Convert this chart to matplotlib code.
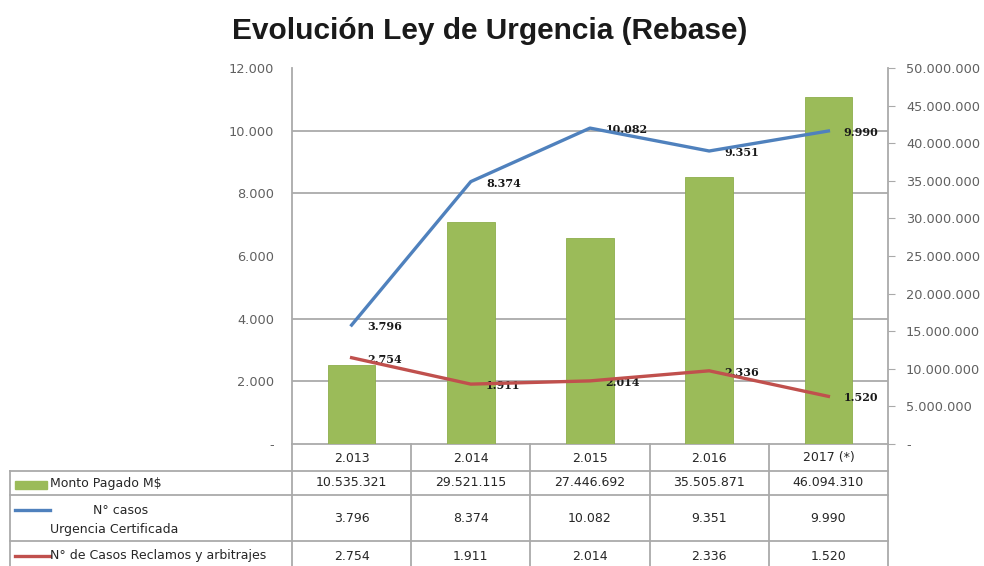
import numpy as np
import matplotlib.pyplot as plt
from matplotlib.lines import Line2D
from matplotlib.patches import Rectangle
from matplotlib.transforms import blended_transform_factory

# datos
years = ["2.013", "2.014", "2.015", "2.016", "2017 (*)"]
monto = [10535321, 29521115, 27446692, 35505871, 46094310]
urgencia = [3796, 8374, 10082, 9351, 9990]
reclamos = [2754, 1911, 2014, 2336, 1520]

left_ticks = np.arange(0, 12001, 2000)
right_ticks = np.arange(0, 50000001, 5000000)

GREEN = "#9BBB59"
BLUE = "#4F81BD"
RED = "#C0504D"
GRID = "#AAAAAA"
TXT = "#262626"


def fmt(v):
    if v == 0:
        return "-"
    return f"{v:,.0f}".replace(",", ".")


W, H = 984, 566
fig = plt.figure(figsize=(W / 100, H / 100), dpi=100)


def fx(px):
    return px / W


def fy(py):
    return 1 - py / H


# eje de barras (escala derecha) y eje de lineas (escala izquierda)
ax = fig.add_axes([fx(292), fy(444), fx(888) - fx(292), fy(68) - fy(444)])
ax2 = ax.twinx()

x = np.arange(len(years))
ax.bar(x, monto, width=0.4, color=GREEN, edgecolor="#8DAE4C", linewidth=0.6, zorder=3)
ax.set_xlim(-0.5, len(years) - 0.5)
ax.set_ylim(0, 50000000)
ax.set_xticks([])
ax.yaxis.tick_right()
ax.set_yticks(right_ticks)
ax.set_yticklabels([fmt(v) for v in right_ticks])
ax.tick_params(axis="y", which="major", length=5, color=GRID, pad=8,
               labelsize=9.3, labelcolor="#606060")
# lineas de grilla en los ticks de la escala izquierda
ax.set_yticks(np.linspace(0, 50000000, len(left_ticks)), minor=True)
ax.tick_params(axis="y", which="minor", length=0)
ax.grid(True, axis="y", which="minor", color=GRID, lw=1.3, zorder=0)
for s in ["left", "right", "bottom"]:
    ax.spines[s].set_color(GRID)
    ax.spines[s].set_linewidth(1.3)
ax.spines["top"].set_visible(False)

ax2.plot(x, urgencia, color=BLUE, lw=2.4, zorder=4)
ax2.plot(x, reclamos, color=RED, lw=2.4, zorder=4)
ax2.set_ylim(0, 12000)
ax2.yaxis.tick_left()
ax2.set_yticks(left_ticks)
ax2.set_yticklabels([fmt(v) for v in left_ticks])
ax2.tick_params(axis="y", length=0, pad=13, labelsize=9.3, labelcolor="#606060")
for s in ax2.spines.values():
    s.set_visible(False)

for serie in (urgencia, reclamos):
    for i, v in enumerate(serie):
        ax2.annotate(fmt(v), (i, v), xytext=(11, -1), textcoords="offset points",
                     ha="left", va="center", fontsize=8, fontweight="bold",
                     family="DejaVu Serif", color="#1a1a1a")

# titulo
fig.text(0.498, fy(31), "Evolución Ley de Urgencia (Rebase)", ha="center", va="center",
         fontsize=21.5, fontweight="bold", family="Liberation Sans", color="#1a1a1a")

# tabla de datos
tb = blended_transform_factory(ax.transData, fig.transFigure)
for b in np.arange(-0.5, len(years), 1.0):
    fig.add_artist(Line2D([b, b], [fy(444), fy(566)], transform=tb, color=GRID, lw=1.3))
fig.add_artist(Line2D([fx(10), fx(10)], [fy(471), fy(566)], color=GRID, lw=1.3))
for py in (471, 495, 541):
    fig.add_artist(Line2D([fx(10), fx(888)], [fy(py), fy(py)], color=GRID, lw=1.3))

for i, yr in enumerate(years):
    fig.text(i, fy(458), yr, transform=tb, ha="center", va="center", fontsize=9, color=TXT)
    fig.text(i, fy(483), fmt(monto[i]), transform=tb, ha="center", va="center", fontsize=9, color=TXT)
    fig.text(i, fy(519), fmt(urgencia[i]), transform=tb, ha="center", va="center", fontsize=9, color=TXT)
    fig.text(i, fy(556), fmt(reclamos[i]), transform=tb, ha="center", va="center", fontsize=9, color=TXT)

# leyenda dentro de la tabla
fig.add_artist(Rectangle((fx(15), fy(489)), fx(47) - fx(15), 8 / H, color=GREEN, transform=fig.transFigure))
fig.add_artist(Line2D([fx(15), fx(50)], [fy(510), fy(510)], color=BLUE, lw=2.4))
fig.add_artist(Line2D([fx(15), fx(50)], [fy(556), fy(556)], color=RED, lw=2.4))
fig.text(fx(50), fy(484), "Monto Pagado M$", ha="left", va="center", fontsize=9, color=TXT)
fig.text(fx(121), fy(510), "N° casos", ha="center", va="center", fontsize=9, color=TXT)
fig.text(fx(50), fy(529), "Urgencia Certificada", ha="left", va="center", fontsize=9, color=TXT)
fig.text(fx(50), fy(556), "N° de Casos Reclamos y arbitrajes", ha="left", va="center", fontsize=9, color=TXT)

fig.savefig("out.png", dpi=100)
